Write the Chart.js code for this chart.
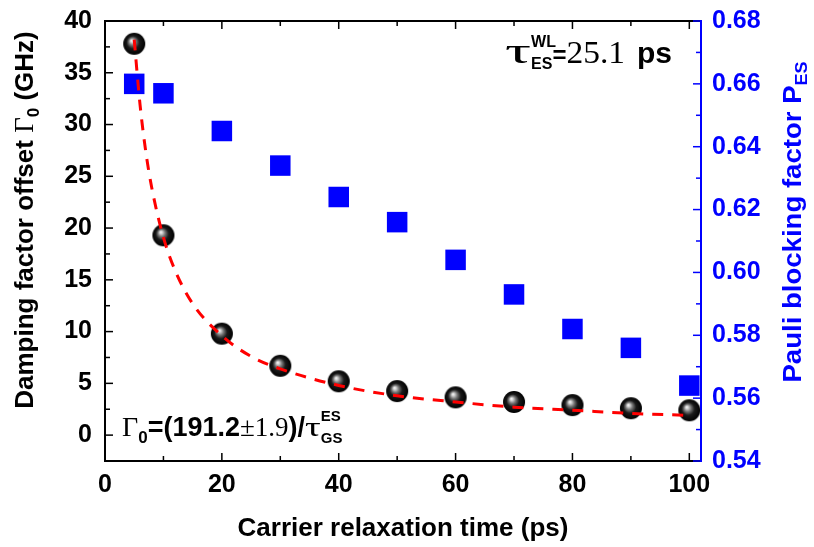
<!DOCTYPE html>
<html>
<head>
<meta charset="utf-8">
<script src="https://cdn.jsdelivr.net/npm/chart.js@4.4.0/dist/chart.umd.min.js"></script>
<style>
  html, body { margin: 0; padding: 0; background: #fff; }
  #wrap { width: 814px; height: 547px; position: relative; }
</style>
</head>
<body>
<div id="wrap"><canvas id="chart"></canvas></div>
<script>
// Data
const relaxTimes = [5, 10, 20, 30, 40, 50, 60, 70, 80, 90, 100];
const dampingOffset = [37.8, 19.3, 9.8, 6.7, 5.2, 4.25, 3.65, 3.2, 2.9, 2.6, 2.4];
const pauliFactor = [0.660, 0.657, 0.645, 0.634, 0.624, 0.616, 0.604, 0.593, 0.582, 0.576, 0.564];

// dashed fit curve
const fitTimes = [5, 6, 7, 8, 10, 12, 15, 20, 25, 30, 40, 50, 60, 70, 80, 90, 100];
const fitValues = [38.2, 31.9, 27.3, 23.9, 19.1, 15.9, 12.7, 9.6, 7.6, 6.4, 4.8, 3.8, 3.2, 2.7, 2.4, 2.1, 1.9];

// tick labels
const xTicks = [0, 20, 40, 60, 80, 100];
const leftTicks = [0, 5, 10, 15, 20, 25, 30, 35, 40];
const rightTicks = [0.54, 0.56, 0.58, 0.60, 0.62, 0.64, 0.66, 0.68];

const SANS = '"Liberation Sans", Arial, sans-serif';
const SERIF = '"Liberation Serif", "Times New Roman", serif';
const BLUE = '#0000ff';

// sphere marker
function makeSphere(r) {
    const c = document.createElement('canvas');
    c.width = c.height = r * 2 + 2;
    const g = c.getContext('2d');
    const cx = r + 1, cy = r + 1;
    const grad = g.createRadialGradient(cx - r * 0.25, cy - r * 0.3, 0, cx, cy, r);
    grad.addColorStop(0, '#ffffff');
    grad.addColorStop(0.12, '#d8d8d8');
    grad.addColorStop(0.32, '#787878');
    grad.addColorStop(0.58, '#1a1a1a');
    grad.addColorStop(1, '#000000');
    g.beginPath();
    g.arc(cx, cy, r, 0, Math.PI * 2);
    g.fillStyle = grad;
    g.fill();
    return c;
}
const sphere = makeSphere(11);

// draw a sequence of text pieces with their own fonts and offsets
function drawRuns(ctx, x, y, runs, color) {
    ctx.save();
    ctx.fillStyle = color;
    ctx.textBaseline = 'alphabetic';
    ctx.textAlign = 'left';
    let cx = x;
    runs.forEach(r => {
        ctx.font = r.font;
        const sx = r.sx || 1;
        cx += r.dx || 0;
        ctx.save();
        ctx.translate(cx, y + (r.dy || 0));
        ctx.scale(sx, 1);
        ctx.fillText(r.t, 0, 0);
        ctx.restore();
        const w = ctx.measureText(r.t).width * sx;
        if (!r.stack) cx += w;
    });
    ctx.restore();
}
function runsWidth(ctx, runs) {
    let w = 0;
    runs.forEach(r => {
        ctx.font = r.font;
        w += r.dx || 0;
        if (!r.stack) w += ctx.measureText(r.t).width * (r.sx || 1);
    });
    return w;
}

// frame, inward ticks, titles and annotations
const decorPlugin = {
    id: 'decor',
    afterDraw(chart) {
        const ctx = chart.ctx;
        const a = chart.chartArea;
        const sx = chart.scales.x, sl = chart.scales.y, sr = chart.scales.y2;
        ctx.save();
        ctx.lineWidth = 2;
        // frame
        ctx.strokeStyle = '#000';
        ctx.beginPath();
        ctx.moveTo(a.right, a.top); ctx.lineTo(a.left, a.top);
        ctx.lineTo(a.left, a.bottom); ctx.lineTo(a.right, a.bottom);
        ctx.stroke();
        ctx.strokeStyle = BLUE;
        ctx.beginPath();
        ctx.moveTo(a.right, a.top - 1); ctx.lineTo(a.right, a.bottom + 1);
        ctx.stroke();

        ctx.lineWidth = 1.5;
        // x ticks, bottom and top
        ctx.strokeStyle = '#000';
        for (let i = 0; i < xTicks.length; i++) {
            const v = xTicks[i];
            let p = sx.getPixelForValue(v);
            ctx.beginPath();
            ctx.moveTo(p, a.bottom); ctx.lineTo(p, a.bottom - 8);
            ctx.moveTo(p, a.top); ctx.lineTo(p, a.top + 8);
            ctx.stroke();
            if (i < xTicks.length - 1) {
                p = sx.getPixelForValue((v + xTicks[i + 1]) / 2);
                ctx.beginPath();
                ctx.moveTo(p, a.bottom); ctx.lineTo(p, a.bottom - 5);
                ctx.moveTo(p, a.top); ctx.lineTo(p, a.top + 5);
                ctx.stroke();
            }
        }
        // left ticks
        for (let i = 0; i < leftTicks.length; i++) {
            const v = leftTicks[i];
            let p = sl.getPixelForValue(v);
            ctx.beginPath(); ctx.moveTo(a.left, p); ctx.lineTo(a.left + 8, p); ctx.stroke();
            if (i < leftTicks.length - 1) {
                p = sl.getPixelForValue((v + leftTicks[i + 1]) / 2);
                ctx.beginPath(); ctx.moveTo(a.left, p); ctx.lineTo(a.left + 5, p); ctx.stroke();
            }
        }
        // right ticks
        ctx.strokeStyle = BLUE;
        for (let i = 0; i < rightTicks.length; i++) {
            const v = rightTicks[i];
            let p = sr.getPixelForValue(v);
            ctx.beginPath(); ctx.moveTo(a.right, p); ctx.lineTo(a.right - 8, p); ctx.stroke();
            if (i < rightTicks.length - 1) {
                p = sr.getPixelForValue((v + rightTicks[i + 1]) / 2);
                ctx.beginPath(); ctx.moveTo(a.right, p); ctx.lineTo(a.right - 5, p); ctx.stroke();
            }
        }

        // x title
        ctx.fillStyle = '#000';
        ctx.font = 'bold 26px ' + SANS;
        ctx.textAlign = 'center';
        ctx.textBaseline = 'alphabetic';
        ctx.fillText('Carrier relaxation time (ps)', 403, 536);

        // left title, rotated
        const leftRuns = [
            { t: 'Damping factor offset ', font: 'bold 26px ' + SANS },
            { t: 'Γ', font: '27px ' + SERIF },
            { t: '0', font: 'bold 17px ' + SANS, dy: 6 },
            { t: ' (GHz)', font: 'bold 26px ' + SANS }
        ];
        ctx.save();
        ctx.translate(33, 220);
        ctx.rotate(-Math.PI / 2);
        drawRuns(ctx, -runsWidth(ctx, leftRuns) / 2, 0, leftRuns, '#000');
        ctx.restore();

        // right title, rotated
        const rightRuns = [
            { t: 'Pauli blocking factor P', font: 'bold 26px ' + SANS, sx: 1.06 },
            { t: 'ES', font: 'bold 17px ' + SANS, dy: 6, sx: 1.06 }
        ];
        ctx.save();
        ctx.translate(801, 222);
        ctx.rotate(-Math.PI / 2);
        drawRuns(ctx, -runsWidth(ctx, rightRuns) / 2, 0, rightRuns, BLUE);
        ctx.restore();

        // top-right annotation
        drawRuns(ctx, 505, 63, [
            { t: 'τ', font: '36px ' + SERIF, sx: 1.8 },
            { t: 'WL', font: 'bold 16px ' + SANS, dy: -16, stack: true },
            { t: 'ES', font: 'bold 16px ' + SANS, dy: 6 },
            { t: '=', font: 'bold 24px ' + SANS, dx: 0 },
            { t: '25.1', font: '31px ' + SERIF, sx: 1.08 },
            { t: 'ps', font: 'bold 30px ' + SANS, dx: 12 }
        ], '#000');

        // bottom-left formula
        drawRuns(ctx, 122, 436, [
            { t: 'Γ', font: '28px ' + SERIF },
            { t: '0', font: 'bold 17px ' + SANS, dy: 7 },
            { t: '=(191.2', font: 'bold 27px ' + SANS },
            { t: '±1.9', font: '27px ' + SERIF },
            { t: ')/', font: 'bold 27px ' + SANS },
            { t: 'τ', font: '28px ' + SERIF, sx: 1.4 },
            { t: 'ES', font: 'bold 15px ' + SANS, dy: -15, stack: true },
            { t: 'GS', font: 'bold 15px ' + SANS, dy: 7 }
        ], '#000');
        ctx.restore();
    }
};

// keep the plot box where the reference has it
function noPad(s) {
    s.paddingTop = 0; s.paddingBottom = 0;
    s.paddingLeft = 0; s.paddingRight = 0;
}

const ctx = document.getElementById('chart').getContext('2d');
new Chart(ctx, {
    type: 'line',
    data: {
        datasets: [
            {
                label: 'fit',
                data: fitTimes.map((t, i) => ({ x: t, y: fitValues[i] })),
                yAxisID: 'y',
                borderColor: '#ff0000',
                borderWidth: 3,
                borderDash: [11, 9],
                pointRadius: 0,
                cubicInterpolationMode: 'monotone',
                fill: false,
                order: 0
            },
            {
                label: 'damping',
                data: relaxTimes.map((t, i) => ({ x: t, y: dampingOffset[i] })),
                yAxisID: 'y',
                showLine: false,
                pointStyle: sphere,
                pointRadius: 11,
                order: 1
            },
            {
                label: 'pauli',
                data: relaxTimes.map((t, i) => ({ x: t, y: pauliFactor[i] })),
                yAxisID: 'y2',
                showLine: false,
                pointStyle: 'rect',
                pointRadius: 14.5,
                backgroundColor: BLUE,
                borderColor: BLUE,
                borderWidth: 0,
                order: 2
            }
        ]
    },
    options: {
        responsive: true,
        maintainAspectRatio: false,
        animation: false,
        layout: { padding: { top: 21, left: 0, right: 0, bottom: 0 } },
        plugins: {
            legend: { display: false },
            tooltip: { enabled: false }
        },
        scales: {
            x: {
                type: 'linear',
                min: 0,
                max: 102,
                grid: { display: false, drawTicks: false },
                border: { display: false },
                afterBuildTicks: s => { s.ticks = xTicks.map(v => ({ value: v })); },
                afterFit: s => { s.height = 86; noPad(s); },
                ticks: {
                    color: '#000',
                    padding: 9,
                    maxRotation: 0,
                    font: { family: SANS, size: 25, weight: 'bold' }
                }
            },
            y: {
                type: 'linear',
                position: 'left',
                min: -2.5,
                max: 40,
                grid: { display: false, drawTicks: false },
                border: { display: false },
                afterBuildTicks: s => { s.ticks = leftTicks.map(v => ({ value: v })); },
                afterFit: s => { s.width = 105; noPad(s); },
                ticks: {
                    color: '#000',
                    padding: 13,
                    font: { family: SANS, size: 25, weight: 'bold' }
                }
            },
            y2: {
                type: 'linear',
                position: 'right',
                min: 0.54,
                max: 0.68,
                grid: { display: false, drawTicks: false },
                border: { display: false },
                afterBuildTicks: s => { s.ticks = rightTicks.map(v => ({ value: v })); },
                afterFit: s => { s.width = 113; noPad(s); },
                ticks: {
                    color: BLUE,
                    padding: 11,
                    callback: v => v.toFixed(2),
                    font: { family: SANS, size: 25, weight: 'bold' }
                }
            }
        }
    },
    plugins: [decorPlugin]
});
</script>
</body>
</html>
